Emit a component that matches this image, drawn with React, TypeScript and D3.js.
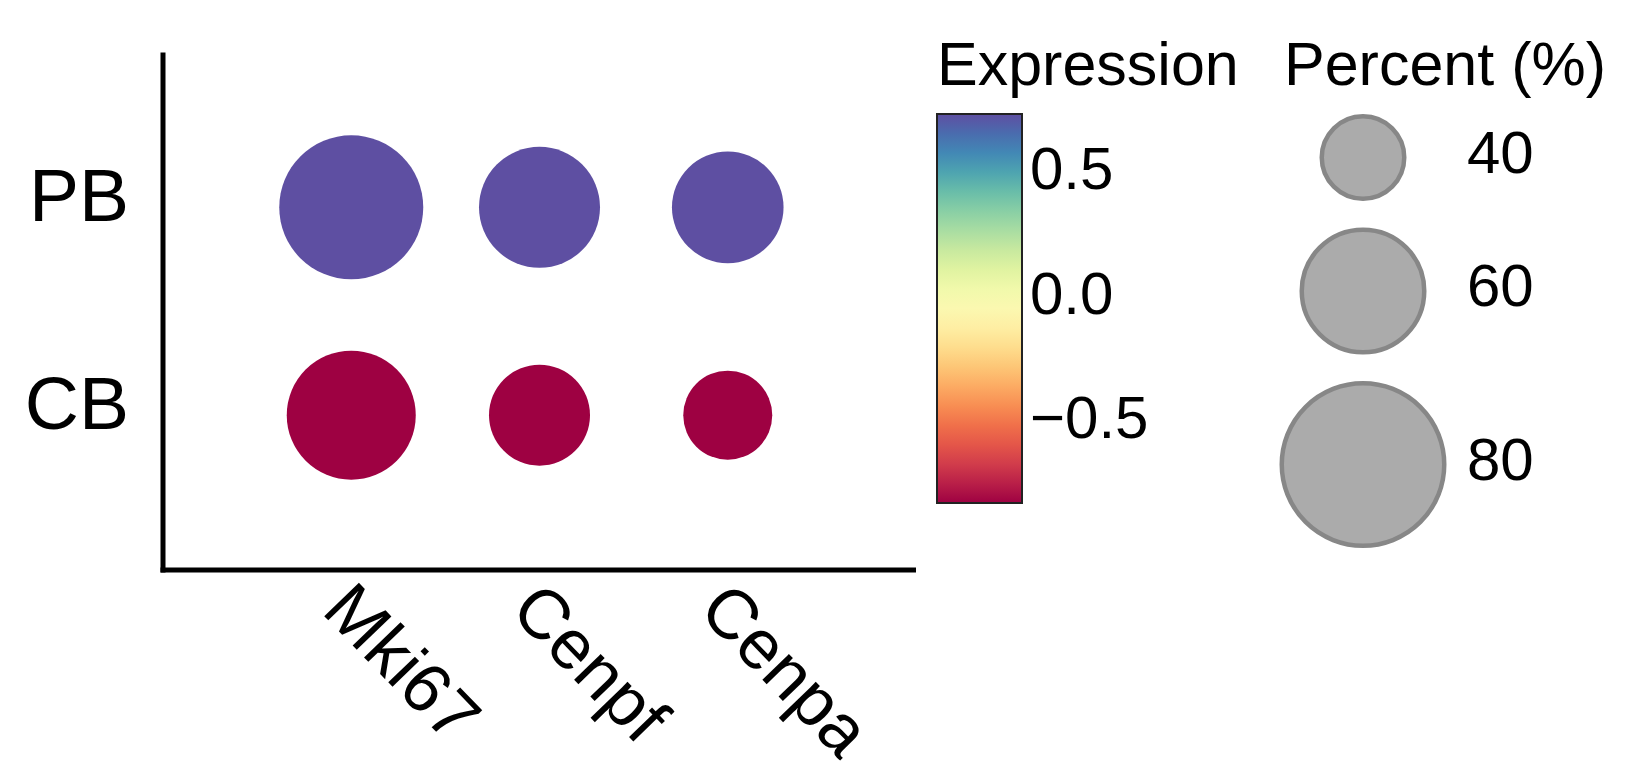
import React from 'react';
import { scalePoint, scaleLinear, scaleSequential, interpolateSpectral, extent } from 'd3';

// genes on x, groups on y
const genes = ['Mki67', 'Cenpf', 'Cenpa'];
const groups = ['PB', 'CB'];

// percent of cells expressing, per group (order follows genes)
const pctPB = [68.5, 57, 52.3];
const pctCB = [61, 47, 41];

// scaled average expression, per group
const exprPB = [0.72, 0.72, 0.72];
const exprCB = [-0.84, -0.84, -0.84];

const exprTicks = [0.5, 0.0, -0.5];
const pctBreaks = [40, 60, 80];

const W = 1630;
const H = 773;
const font = '"Liberation Sans", Arial, Helvetica, sans-serif';

const App = () => {
  const plot = { left: 163, right: 916, top: 52.5, bottom: 570 };

  const x = scalePoint().domain(genes).range([plot.left, plot.right]).padding(1);
  const y = scalePoint().domain(groups).range([plot.top, plot.bottom]).padding(0.745);

  const radius = scaleLinear().domain([40, 80]).range([43.5, 83.5]);

  const allExpr = [...exprPB, ...exprCB];
  const [eMin, eMax] = extent(allExpr) as [number, number];
  const color = scaleSequential(interpolateSpectral).domain([eMin, eMax]);

  const dots = groups.flatMap((g) =>
    genes.map((gene, i) => ({
      group: g,
      gene,
      pct: g === 'PB' ? pctPB[i] : pctCB[i],
      expr: g === 'PB' ? exprPB[i] : exprCB[i],
    }))
  );

  // colour bar
  const bar = { x: 937, y: 114, w: 85, h: 389 };
  const barY = scaleLinear().domain([eMin, eMax]).range([bar.y + bar.h, bar.y]);
  const stops = Array.from({ length: 21 }, (_, i) => i / 20);

  // size legend: keys stacked, each key = diameter + padding
  const keyPad = 13.25;
  let cursor = 100.75;
  const sizeKeys = pctBreaks.map((p) => {
    const r = radius(p);
    const cy = cursor + keyPad + r;
    cursor += 2 * r + 2 * keyPad;
    return { p, r, cy };
  });
  const sizeCx = 1363;

  return (
    <svg
      width={W}
      height={H}
      style={{ position: 'absolute', left: 0, top: 0, background: '#fff' }}
      fontFamily={font}
    >
      <defs>
        <linearGradient id="spectral" x1="0" y1="1" x2="0" y2="0">
          {stops.map((t) => (
            <stop key={t} offset={t} stopColor={color(eMin + t * (eMax - eMin))} />
          ))}
        </linearGradient>
      </defs>

      {/* axes */}
      <line x1={plot.left} x2={plot.left} y1={plot.top} y2={plot.bottom + 2.5} stroke="#000" strokeWidth={5} />
      <line x1={plot.left - 2.5} x2={plot.right} y1={plot.bottom} y2={plot.bottom} stroke="#000" strokeWidth={5} />

      {groups.map((g) => (
        <text key={g} x={129} y={(y(g) as number) + 14} fontSize={75} textAnchor="end">
          {g}
        </text>
      ))}

      {genes.map((g) => {
        const tx = (x(g) as number) - 31;
        const ty = plot.bottom + 42;
        return (
          <text key={g} x={tx} y={ty} fontSize={70} transform={`rotate(46 ${tx} ${ty})`}>
            {g}
          </text>
        );
      })}

      {/* dots */}
      {dots.map((d) => (
        <circle
          key={d.group + d.gene}
          cx={x(d.gene)}
          cy={y(d.group)}
          r={radius(d.pct)}
          fill={color(d.expr)}
        />
      ))}

      {/* expression legend */}
      <text x={937} y={85} fontSize={61}>Expression</text>
      <rect x={bar.x} y={bar.y} width={bar.w} height={bar.h} fill="url(#spectral)" stroke="#222" strokeWidth={2} />
      {exprTicks.map((t) => (
        <text key={t} x={1030} y={barY(t) + 20} fontSize={60}>
          {t === 0 ? '0.0' : t < 0 ? `\u2212${Math.abs(t).toFixed(1)}` : t.toFixed(1)}
        </text>
      ))}

      {/* percent legend */}
      <text x={1284} y={85} fontSize={61}>Percent (%)</text>
      {sizeKeys.map((k) => (
        <g key={k.p}>
          <circle cx={sizeCx} cy={k.cy} r={k.r - 2.25} fill="#ababab" stroke="#878787" strokeWidth={4.5} />
          <text x={1467} y={k.cy + 15} fontSize={60}>
            {k.p}
          </text>
        </g>
      ))}
    </svg>
  );
};

export default App;
